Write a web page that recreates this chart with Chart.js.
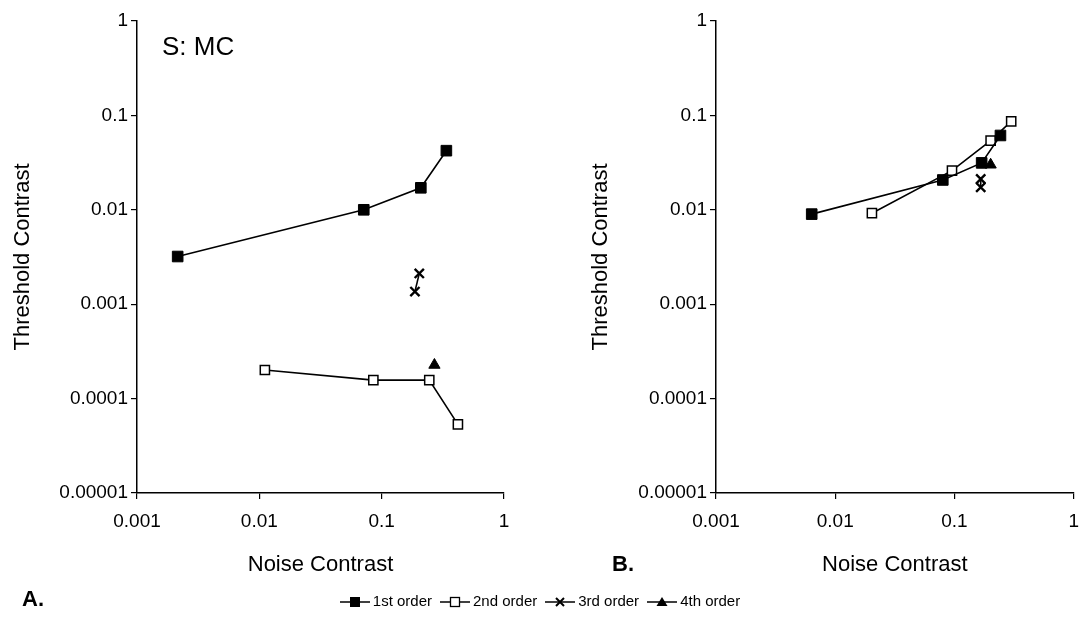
<!DOCTYPE html>
<html>
<head>
<meta charset="utf-8">
<script src="https://cdn.jsdelivr.net/npm/chart.js@4.4.1/dist/chart.umd.min.js"></script>
<style>
  html, body { margin: 0; padding: 0; background: #fff; overflow: hidden; }
  body { width: 1080px; height: 623px; position: relative; font-family: "Liberation Sans", Arial, sans-serif; }
  .panel { position: absolute; top: 0; }
  #chartA { left: 0; }
  #chartB { left: 560px; }
  .tag { position: absolute; font-weight: bold; font-size: 22px; color: #000; }
  #subject { position: absolute; left: 162px; top: 31px; font-size: 26px; color: #000; }
  #legend { position: absolute; top: 592px; left: 0; width: 1080px; text-align: center; font-size: 15px; color: #000; }
  #legend span.item { display: inline-block; margin: 0 4px; }
  #legend svg { vertical-align: middle; margin-right: 3px; }
</style>
</head>
<body>
<canvas id="chartA" class="panel" width="545" height="590"></canvas>
<canvas id="chartB" class="panel" width="530" height="590"></canvas>
<div id="subject">S: MC</div>
<div class="tag" style="left:22px; top:586px;">A.</div>
<div class="tag" style="left:612px; top:551px;">B.</div>
<div id="legend"></div>

<script>
// axis ticks (log decades)
const xTicks = [0.001, 0.01, 0.1, 1];
const xTickLabels = ['0.001', '0.01', '0.1', '1'];
const yTicks = [0.00001, 0.0001, 0.001, 0.01, 0.1, 1];
const yTickLabels = ['0.00001', '0.0001', '0.001', '0.01', '0.1', '1'];

const seriesNames = ['1st order', '2nd order', '3rd order', '4th order'];

// panel A (S: MC)
const a1x = [0.00215, 0.0714, 0.209, 0.338];
const a1y = [0.0032, 0.0100, 0.0171, 0.0423];
const a2x = [0.0111, 0.0855, 0.245, 0.42];
const a2y = [0.000201, 0.000157, 0.000157, 0.0000534];
const a3x = [0.203, 0.187];
const a3y = [0.00212, 0.00136];
const a4x = [0.27];
const a4y = [0.000227];

// panel B
const b1x = [0.00635, 0.0798, 0.169, 0.243];
const b1y = [0.0090, 0.0207, 0.0314, 0.0613];
const b2x = [0.0203, 0.0953, 0.201, 0.299];
const b2y = [0.0092, 0.026, 0.054, 0.0863];
const b3x = [0.166, 0.166];
const b3y = [0.0212, 0.0173];
const b4x = [0.201];
const b4y = [0.030];

const FONT = "'Liberation Sans', Arial, sans-serif";

const styles = [
  { pointStyle: 'rect', pointRadius: 7.5, backgroundColor: '#000', pointBorderWidth: 1 },
  { pointStyle: 'rect', pointRadius: 6.5, backgroundColor: '#fff', pointBorderWidth: 1.5 },
  { pointStyle: 'crossRot', pointRadius: 6.5, backgroundColor: '#000', pointBorderWidth: 2.4 },
  { pointStyle: 'triangle', pointRadius: 6.5, backgroundColor: '#000', pointBorderWidth: 1 }
];

function pts(xs, ys) {
  return xs.map((x, i) => ({ x: x, y: ys[i] }));
}

function makeDatasets(list) {
  return list.map((pair, i) => ({
    label: seriesNames[i],
    data: pts(pair[0], pair[1]),
    borderColor: '#000',
    borderWidth: 1.6,
    pointBackgroundColor: styles[i].backgroundColor,
    pointBorderColor: '#000',
    pointBorderWidth: styles[i].pointBorderWidth,
    pointStyle: styles[i].pointStyle,
    pointRadius: styles[i].pointRadius,
    showLine: true,
    fill: false,
    tension: 0
  }));
}

function makePanel(id, datasets, yWidth, yTitlePad, padRight) {
  new Chart(document.getElementById(id), {
    type: 'line',
    data: { datasets: datasets },
    options: {
      responsive: false,
      animation: false,
      layout: { padding: { left: 0, right: padRight, top: 21, bottom: 0 } },
      plugins: { legend: { display: false }, tooltip: { enabled: false } },
      scales: {
        x: {
          type: 'logarithmic',
          min: 0.001,
          max: 1,
          afterBuildTicks: s => { s.ticks = xTicks.map(v => ({ value: v })); },
          afterFit: s => { s.height = 97; },
          ticks: {
            callback: v => xTickLabels[xTicks.indexOf(v)],
            color: '#000',
            font: { family: FONT, size: 19 },
            padding: 11,
            maxRotation: 0,
            autoSkip: false
          },
          grid: { drawOnChartArea: false, color: '#000', tickLength: 6, lineWidth: 1.2 },
          border: { color: '#000', width: 1.5 },
          title: { display: true, text: 'Noise Contrast', color: '#000', font: { family: FONT, size: 22 }, padding: { top: 0, bottom: 12 } }
        },
        y: {
          type: 'logarithmic',
          min: 0.00001,
          max: 1,
          afterBuildTicks: s => { s.ticks = yTicks.map(v => ({ value: v })); },
          afterFit: s => { s.width = yWidth; },
          ticks: {
            callback: v => yTickLabels[yTicks.indexOf(v)],
            color: '#000',
            font: { family: FONT, size: 19 },
            padding: 3,
            autoSkip: false
          },
          grid: { drawOnChartArea: false, color: '#000', tickLength: 6, lineWidth: 1.2 },
          border: { color: '#000', width: 1.5 },
          title: { display: true, text: 'Threshold Contrast', color: '#000', font: { family: FONT, size: 22 }, padding: { top: yTitlePad, bottom: 0 } }
        }
      }
    }
  });
}

makePanel('chartA', makeDatasets([[a1x, a1y], [a2x, a2y], [a3x, a3y], [a4x, a4y]]), 137, 10, 41);
makePanel('chartB', makeDatasets([[b1x, b1y], [b2x, b2y], [b3x, b3y], [b4x, b4y]]), 156, 28, 9);

// legend: line with marker, then name
const markerSvg = [
  '<rect x="10" y="2" width="10" height="10" fill="#000"/>',
  '<rect x="10.5" y="2.5" width="9" height="9" fill="#fff" stroke="#000" stroke-width="1.3"/>',
  '<path d="M11 3 L19 11 M19 3 L11 11" stroke="#000" stroke-width="2"/>',
  '<path d="M15 2 L20.5 11 L9.5 11 Z" fill="#000"/>'
];
const legend = document.getElementById('legend');
seriesNames.forEach((name, i) => {
  const item = document.createElement('span');
  item.className = 'item';
  item.innerHTML = '<svg width="30" height="14"><line x1="0" y1="7" x2="30" y2="7" stroke="#000" stroke-width="1.5"/>' +
    markerSvg[i] + '</svg>' + name;
  legend.appendChild(item);
});
</script>
</body>
</html>
